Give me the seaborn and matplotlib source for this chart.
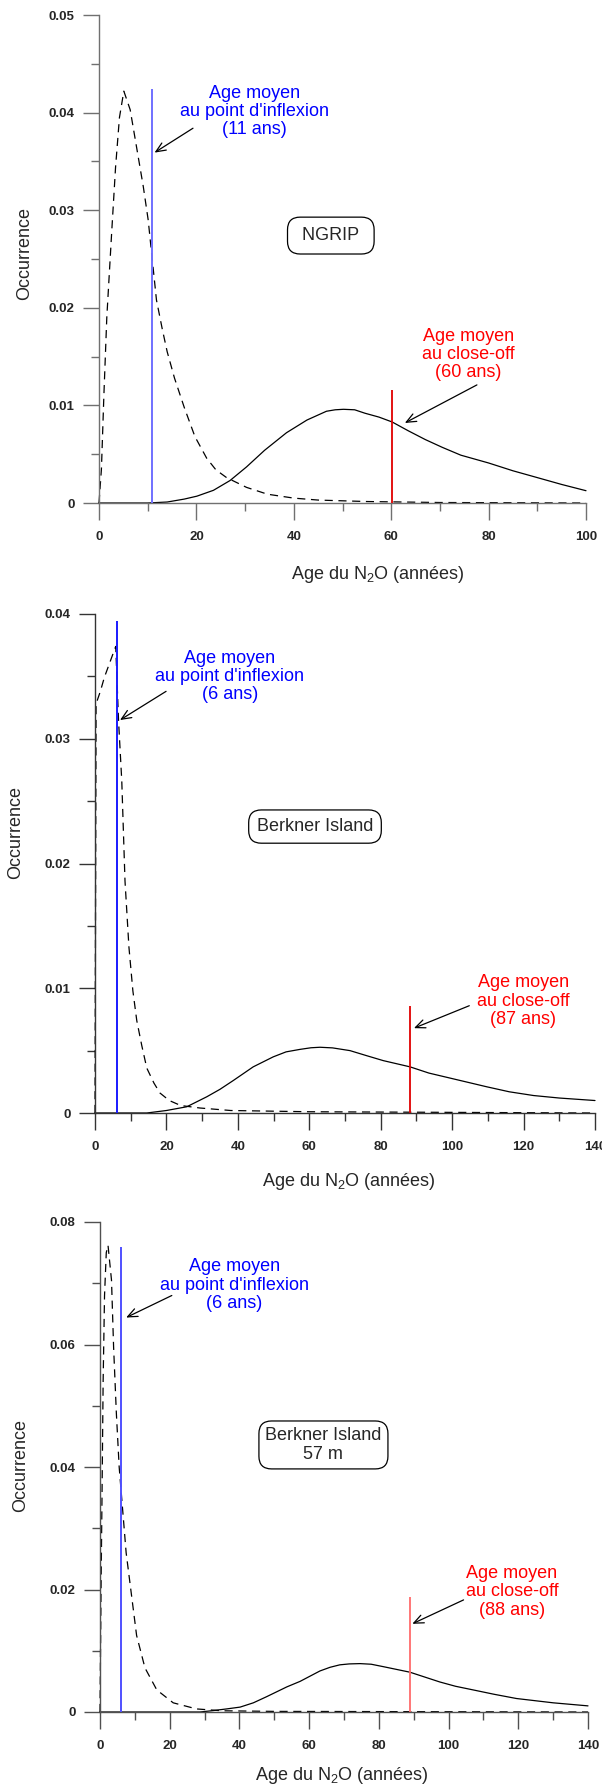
import matplotlib
matplotlib.use('Agg')
import matplotlib.pyplot as plt
import matplotlib.ticker as mticker
import seaborn as sns
import pandas as pd

# ---- NGRIP ----
ngrip_dash_age = [0, 0.5, 1.0, 1.6, 2.6, 3.4, 4.2, 5.1, 6.4, 7.7, 9.1, 10.1, 10.8, 11.8, 13, 14,
                  15.5, 17.5, 19.7, 22.1, 24, 26.2, 30.3, 34.6, 40, 45, 55, 70, 100]
ngrip_dash_occ = [0, 0.0035, 0.011, 0.019, 0.0277, 0.0344, 0.0395, 0.0422, 0.0403, 0.0365, 0.0324,
                  0.029, 0.0256, 0.0208, 0.0178, 0.0155, 0.0128, 0.0098, 0.0068, 0.0046, 0.0034,
                  0.0026, 0.0016, 0.0009, 0.0005, 0.0003, 0.00015, 0.00005, 0]
ngrip_solid_age = [0, 10, 14, 17.5, 20.1, 23.5, 26.9, 30.3, 34, 38.5, 42.7, 46.7, 48.5, 50.2, 52.5,
                   54.6, 57.5, 60.2, 63.5, 67, 70.5, 74.3, 80, 85, 89.3, 95, 100]
ngrip_solid_occ = [0, 0, 0.0001, 0.0004, 0.0007, 0.0013, 0.0023, 0.0037, 0.0054, 0.0072, 0.0085,
                   0.0094, 0.00955, 0.0096, 0.00955, 0.0092, 0.0088, 0.0083, 0.0074, 0.0065,
                   0.0057, 0.0049, 0.0041, 0.0033, 0.0027, 0.0019, 0.00126]
ngrip_inflexion = 10.8
ngrip_closeoff = 60.2

# ---- Berkner Island ----
berkner_dash_age = [0, 0.3, 1.5, 2.6, 4, 5.8, 6.6, 7.5, 8.4, 9.5, 10.6, 11.7, 13.1, 14.5, 16.5,
                    18.2, 20.8, 24, 29.4, 38, 60, 140]
berkner_dash_occ = [0, 0.0328, 0.0338, 0.0349, 0.036, 0.0374, 0.0314, 0.0266, 0.0186, 0.0133,
                    0.0098, 0.0074, 0.0054, 0.0036, 0.0024, 0.0016, 0.001, 0.0006, 0.0004, 0.0002,
                    0.0001, 0]
berkner_solid_age = [0, 14.5, 20, 25.7, 31.3, 35, 38.7, 44.3, 49.9, 53.5, 57.4, 60.5, 63, 66.5,
                     71.4, 76, 80.7, 88.2, 93.5, 99.4, 109.7, 116, 122.8, 130, 140]
berkner_solid_occ = [0, 0, 0.0002, 0.0005, 0.0013, 0.0019, 0.0026, 0.0037, 0.0045, 0.0049, 0.0051,
                     0.00523, 0.00527, 0.00522, 0.005, 0.0046, 0.0042, 0.0037, 0.0032, 0.0028,
                     0.0021, 0.0017, 0.0014, 0.0012, 0.001]
berkner_inflexion = 6.1
berkner_closeoff = 88.1

# ---- Berkner Island 57 m ----
b57_dash_age = [0, 0.3, 0.66, 0.9, 1.3, 1.8, 2.3, 3.3, 3.9, 4.7, 5.5, 6.5, 7.5, 9.1, 10.5, 12.9,
                16.3, 21, 27.7, 35, 50, 140]
b57_dash_occ = [0, 0.02, 0.04, 0.054, 0.068, 0.075, 0.0762, 0.0705, 0.0596, 0.0487, 0.04, 0.033,
                0.026, 0.0188, 0.0125, 0.0072, 0.0036, 0.0015, 0.0005, 0.0002, 0.0001, 0]
b57_solid_age = [0, 28.7, 32, 36.3, 40.2, 44, 47.8, 53.6, 57.4, 63.1, 66, 68.8, 71.5, 74.6, 77.8,
                 81.3, 88.9, 97.5, 102, 107.1, 113, 119.5, 130, 140]
b57_solid_occ = [0, 0, 0.0002, 0.0005, 0.0008, 0.0015, 0.0025, 0.0041, 0.005, 0.0067, 0.0073,
                 0.0077, 0.00785, 0.0079, 0.0078, 0.0074, 0.0065, 0.0049, 0.0042, 0.0036, 0.0029,
                 0.0022, 0.0015, 0.001]
b57_inflexion = 6.0
b57_closeoff = 88.9

ticks_x_100 = ['0', '20', '40', '60', '80', '100']
ticks_x_140 = ['0', '20', '40', '60', '80', '100', '120', '140']
ticks_y_1 = ['0', '0.01', '0.02', '0.03', '0.04', '0.05']
ticks_y_2 = ['0', '0.01', '0.02', '0.03', '0.04']
ticks_y_3 = ['0', '0.02', '0.04', '0.06', '0.08']

sns.set_style('ticks')
plt.rcParams['font.family'] = ['Liberation Sans', 'DejaVu Sans']
plt.rcParams['mathtext.fontset'] = 'custom'
plt.rcParams['mathtext.rm'] = 'Liberation Sans'
plt.rcParams['mathtext.it'] = 'Liberation Sans:italic'
plt.rcParams['mathtext.bf'] = 'Liberation Sans:bold'

W, H = 602, 1789
fig = plt.figure(figsize=(W / 100, H / 100), dpi=100)

panels = [
    dict(box=(99, 586, 15, 503), xmax=100, xt=ticks_x_100, ymax=0.05, ymaj=0.01, ymin=0.005,
         yt=ticks_y_1, spine='#707070',
         dash=(ngrip_dash_age, ngrip_dash_occ), solid=(ngrip_solid_age, ngrip_solid_occ),
         blue=(ngrip_inflexion, 0.0424, '#7070ff'), red=(ngrip_closeoff, 0.0116, '#e00000'),
         btxt='Age moyen\nau point d\'inflexion\n(11 ans)', bpos=(32.0, 0.0401),
         barr=((19.3, 0.0384), (11.4, 0.0359)),
         rtxt='Age moyen\nau close-off\n(60 ans)', rpos=(75.8, 0.0152),
         rarr=((77.6, 0.0121), (62.8, 0.0082)),
         site=' NGRIP ', spos=(47.6, 0.0274), spad=0.55,
         ylab=(25, 254), xlab=(378, 575)),
    dict(box=(95, 595, 614, 1113), xmax=140, xt=ticks_x_140, ymax=0.04, ymaj=0.01, ymin=0.005,
         yt=ticks_y_2, spine='#333333',
         dash=(berkner_dash_age, berkner_dash_occ), solid=(berkner_solid_age, berkner_solid_occ),
         blue=(berkner_inflexion, 0.0394, '#1a1aff'), red=(berkner_closeoff, 0.0086, '#e00000'),
         btxt='Age moyen\nau point d\'inflexion\n(6 ans)', bpos=(37.8, 0.035),
         barr=((19.9, 0.0338), (7.0, 0.0315)),
         rtxt='Age moyen\nau close-off\n(87 ans)', rpos=(119.9, 0.00896),
         rarr=((104.8, 0.0086), (89.3, 0.0068)),
         site='Berkner Island', spos=(61.6, 0.02296), spad=0.45,
         ylab=(16, 833), xlab=(349, 1182)),
    dict(box=(100, 588, 1222, 1712), xmax=140, xt=ticks_x_140, ymax=0.08, ymaj=0.02, ymin=0.01,
         yt=ticks_y_3, spine='#505050',
         dash=(b57_dash_age, b57_dash_occ), solid=(b57_solid_age, b57_solid_occ),
         blue=(b57_inflexion, 0.0759, '#5050ff'), red=(b57_closeoff, 0.0188, '#ff6b6b'),
         btxt='Age moyen\nau point d\'inflexion\n(6 ans)', bpos=(38.6, 0.0697),
         barr=((20.6, 0.068), (7.5, 0.0644)),
         rtxt='Age moyen\nau close-off\n(88 ans)', rpos=(118.2, 0.0196),
         rarr=((104.3, 0.0183), (89.6, 0.0144)),
         site='Berkner Island\n57 m', spos=(64.1, 0.0436), spad=0.35,
         ylab=(21, 1465), xlab=(342, 1775)),
]

for p in panels:
    l, r, t, b = p['box']
    ax = fig.add_axes([l / W, 1 - b / H, (r - l) / W, (b - t) / H])

    df_d = pd.DataFrame({'age': p['dash'][0], 'occ': p['dash'][1]})
    df_s = pd.DataFrame({'age': p['solid'][0], 'occ': p['solid'][1]})
    sns.lineplot(data=df_d, x='age', y='occ', ax=ax, color='black', lw=0.9,
                 estimator=None, sort=False, dashes=False, clip_on=False)
    ax.lines[-1].set_dashes((6.5, 4.5))
    sns.lineplot(data=df_s, x='age', y='occ', ax=ax, color='black', lw=0.9,
                 estimator=None, sort=False, clip_on=False)

    bx, btop, bcol = p['blue']
    rx, rtop, rcol = p['red']
    ax.vlines(bx, 0, btop, color=bcol, lw=1.4, zorder=3)
    ax.vlines(rx, 0, rtop, color=rcol, lw=1.3, zorder=3)

    ax.text(*p['bpos'], p['btxt'], color='#0000ff', fontsize=13, ha='center', va='center',
            linespacing=1.1)
    ax.text(*p['rpos'], p['rtxt'], color='#ff0000', fontsize=13, ha='center', va='center',
            linespacing=1.1)
    for tail, head in (p['barr'], p['rarr']):
        ax.annotate('', xy=head, xytext=tail,
                    arrowprops=dict(arrowstyle='->,head_length=0.7,head_width=0.3', color='black',
                                    lw=0.9, shrinkA=0, shrinkB=0))
    ax.text(*p['spos'], p['site'], fontsize=13, ha='center', va='center', linespacing=1.1,
            bbox=dict(boxstyle='round,pad=%s,rounding_size=0.7' % p['spad'], fc='white',
                      ec='black', lw=0.9))

    ax.set_xlim(0, p['xmax'])
    ax.set_ylim(0, p['ymax'])
    ax.xaxis.set_major_locator(mticker.FixedLocator([i * 20 for i in range(len(p['xt']))]))
    ax.xaxis.set_major_formatter(mticker.FixedFormatter(p['xt']))
    ax.xaxis.set_minor_locator(mticker.MultipleLocator(10))
    ax.yaxis.set_major_locator(mticker.FixedLocator([i * p['ymaj'] for i in range(len(p['yt']))]))
    ax.yaxis.set_major_formatter(mticker.FixedFormatter(p['yt']))
    ax.yaxis.set_minor_locator(mticker.MultipleLocator(p['ymin']))

    for s in ('top', 'right'):
        ax.spines[s].set_visible(False)
    for s in ('left', 'bottom'):
        ax.spines[s].set_color(p['spine'])
        ax.spines[s].set_linewidth(1.0)
    ax.tick_params(axis='both', which='both', direction='out', color=p['spine'], width=1.0)
    ax.tick_params(axis='x', which='major', length=12, pad=8.5, labelsize=9.5)
    ax.tick_params(axis='x', which='minor', length=6)
    ax.tick_params(axis='y', which='major', length=11.5, pad=6, labelsize=9.5)
    ax.tick_params(axis='y', which='minor', length=6)
    for lab in ax.get_xticklabels() + ax.get_yticklabels():
        lab.set_fontweight('bold')

    ax.set_xlabel('Age du N$_{\\mathregular{2}}$O (années)', fontsize=13)
    ax.set_ylabel('Occurrence', fontsize=13)
    ax.xaxis.set_label_coords(p['xlab'][0] / W, 1 - p['xlab'][1] / H, transform=fig.transFigure)
    ax.xaxis.label.set_va('center')
    ax.yaxis.set_label_coords(p['ylab'][0] / W, 1 - p['ylab'][1] / H, transform=fig.transFigure)
    ax.yaxis.label.set_va('center')
    ax.set_facecolor('none')

fig.savefig('out.png', dpi=100)
